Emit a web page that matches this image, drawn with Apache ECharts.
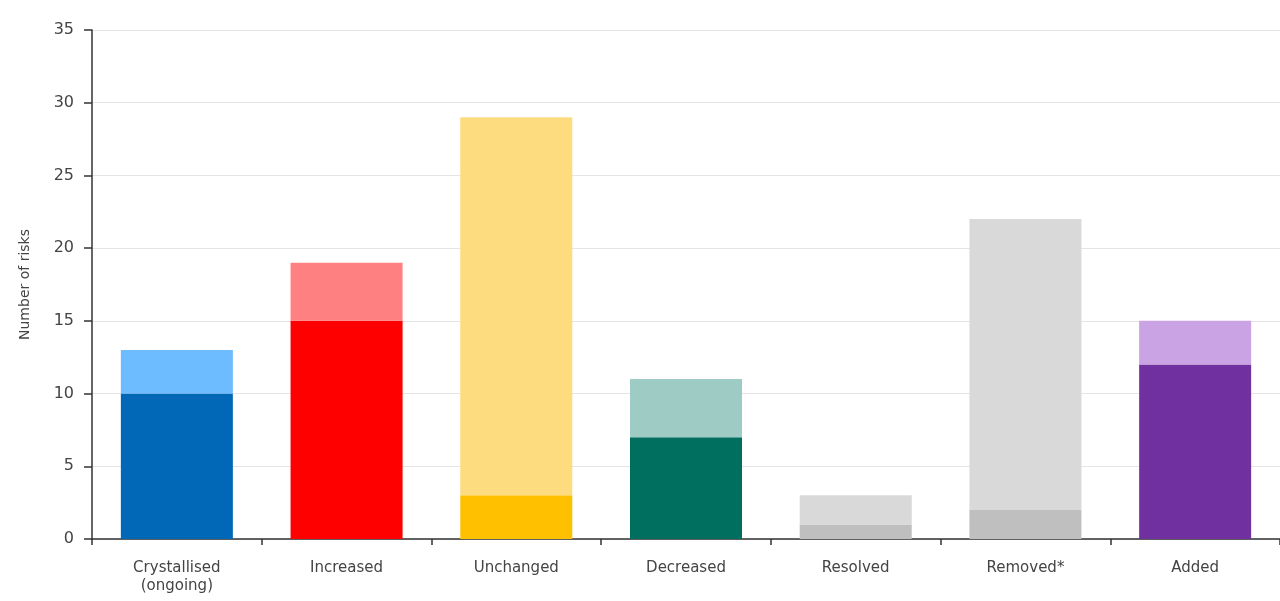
<!DOCTYPE html>
<html><head><meta charset="utf-8">
<script src="https://cdn.jsdelivr.net/npm/echarts@6/dist/echarts.min.js"></script>
<style>html,body{margin:0;padding:0;background:#fff}#c{width:1280px;height:601px}</style>
</head><body><div id="c"></div>
<script>
const categories = ['Crystallised\n(ongoing)', 'Increased', 'Unchanged', 'Decreased', 'Resolved', 'Removed*', 'Added'];
const baseValues = [10, 15, 3, 7, 1, 2, 12];
const topValues = [3, 4, 26, 4, 2, 20, 3];
const baseColors = ['#0068b6', '#ff0000', '#ffc000', '#006f5f', '#bfbfbf', '#bfbfbf', '#7030a0'];
const topColors = ['#6cbcff', '#ff8080', '#fddc80', '#9ecbc3', '#d9d9d9', '#d9d9d9', '#c9a3e3'];
const yTicks = [0, 5, 10, 15, 20, 25, 30, 35];

const chart = echarts.init(document.getElementById('c'));
chart.setOption({
  animation: false,
  grid: { left: 92, right: -6, top: 30, bottom: 62 },
  xAxis: {
    type: 'category', data: categories,
    axisLine: { lineStyle: { color: '#333', width: 1.5 } },
    axisTick: { show: true, length: 6, lineStyle: { color: '#333', width: 1.5 } },
    axisLabel: { color: '#444', fontSize: 15, margin: 20, lineHeight: 18, fontFamily: 'DejaVu Sans' }
  },
  yAxis: {
    type: 'value', min: yTicks[0], max: yTicks[yTicks.length - 1], interval: 5,
    name: 'Number of risks', nameLocation: 'middle', nameGap: 60, nameRotate: 90,
    nameTextStyle: { color: '#444', fontSize: 14, fontFamily: 'DejaVu Sans' },
    axisLine: { show: true, lineStyle: { color: '#333', width: 1.5 } },
    axisTick: { show: true, length: 8, lineStyle: { color: '#333', width: 1.5 } },
    axisLabel: { color: '#444', fontSize: 16, margin: 18, fontFamily: 'DejaVu Sans' },
    splitLine: { lineStyle: { color: '#e4e4e4', width: 1 } }
  },
  series: [
    { type: 'bar', stack: 's', barWidth: '66%', silent: true,
      data: baseValues.map((v, i) => ({ value: v, itemStyle: { color: baseColors[i] } })) },
    { type: 'bar', stack: 's', barWidth: '66%', silent: true,
      data: topValues.map((v, i) => ({ value: v, itemStyle: { color: topColors[i] } })) }
  ]
});
</script></body></html>
